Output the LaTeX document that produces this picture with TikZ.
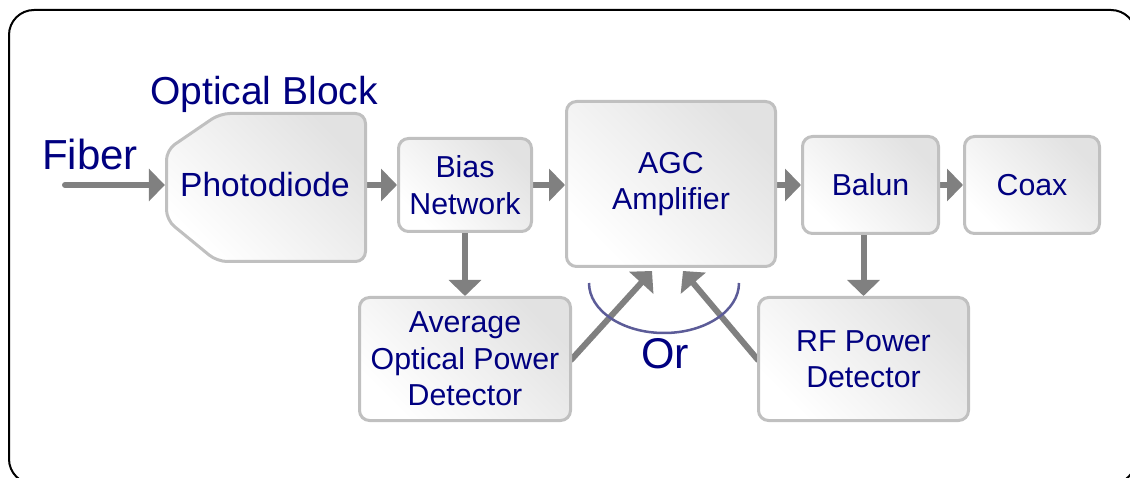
\documentclass[tikz,border=0pt]{standalone}
\usepackage{fontspec}
\setmainfont{Liberation Sans}
\usetikzlibrary{arrows.meta,calc}
\pgfdeclarelayer{bg}
\pgfsetlayers{bg,main}
\definecolor{navy}{RGB}{0,0,128}
\definecolor{agray}{RGB}{128,128,128}
\definecolor{bordergray}{RGB}{192,192,192}
\definecolor{fillgray}{RGB}{226,226,226}
\definecolor{arccol}{RGB}{92,92,152}
\tikzset{
  blk/.style={draw=bordergray, line width=3pt, rounded corners=10pt,
    top color=fillgray, bottom color=white, shading angle=-45,
    text=navy, font=\fontsize{30.3}{36.5}\selectfont, align=center, inner sep=0pt},
  arr/.style={draw=agray, line width=6pt, line cap=round,
    -{Triangle[length=16pt,width=32pt]}},
  lbl/.style={text=navy, inner sep=0pt},
  arcst/.style={draw=arccol, line width=2.5pt}
}
\begin{document}
\begin{tikzpicture}[x=1pt,y=-1pt]
\useasboundingbox (0,0) rectangle (1130,478);
\draw[line width=2pt, rounded corners=25pt] (9,10) rectangle (1136,484);

% Photodiode chamfered block
\shade[draw=bordergray, line width=3pt, rounded corners=10pt,
  top color=fillgray, bottom color=white, shading angle=-45]
  (166.5,150) -- (220,113.5) -- (365.5,113.5) -- (365.5,261.5)
  -- (217,261.5) -- (166.5,220) -- cycle;
\node[inner sep=0pt, minimum width=202pt, minimum height=148pt] (pd) at (266,185) {};
\node[lbl, font=\fontsize{33.5}{40}\selectfont, anchor=base] (pdt) at (265,197) {Photodiode};

\node[blk, minimum width=133pt, minimum height=93pt] (bias) at (465,185) {Bias\\Network};
\node[blk, minimum width=209pt, minimum height=165pt] (agc) at (671,184) {AGC\\Amplifier};
\node[blk, minimum width=136pt, minimum height=97pt] (balun) at (870.5,185) {Balun};
\node[blk, minimum width=135pt, minimum height=97pt] (coax) at (1032,185) {Coax};
\node[blk, minimum width=211pt, minimum height=123pt] (avg) at (465,359) {Average\\Optical Power\\Detector};
\node[blk, minimum width=210pt, minimum height=123pt] (rf) at (863.5,359) {RF Power\\Detector};

\node[lbl, font=\fontsize{42}{50}\selectfont, anchor=base west] (fibt) at (42,170) {Fiber};
\node[lbl, font=\fontsize{39}{46}\selectfont, anchor=base west] (obt) at (150,105) {Optical Block};
\node[lbl, font=\fontsize{43}{50}\selectfont, anchor=base] (ort) at (665,368) {Or};

\coordinate (fib) at (65,185);
\coordinate (t1) at ($(agc.south)+(-19,3)$);
\coordinate (t2) at ($(agc.south)+(12,3)$);

\begin{pgfonlayer}{bg}
\draw[arr] (fib) -- (pd.west);
\draw[arr] (pd.east) -- (bias.west);
\draw[arr] (bias.east) -- (bias.east -| agc.west);
\draw[arr] (agc.east |- balun.west) -- (balun.west);
\draw[arr] (balun.east) -- (coax.west);
\draw[arr] (bias.south) -- (bias.south |- avg.north);
\draw[arr] (rf.north |- balun.south) -- (rf.north);
\draw[arr] ($(avg.east)+(-1,1)$) -- (t1);
\draw[arr] ($(rf.west)+(1,1)$) -- (t2);
\end{pgfonlayer}

\draw[arcst] (589,283) arc[start angle=180, end angle=0, x radius=75, y radius=50];
\end{tikzpicture}
\end{document}
